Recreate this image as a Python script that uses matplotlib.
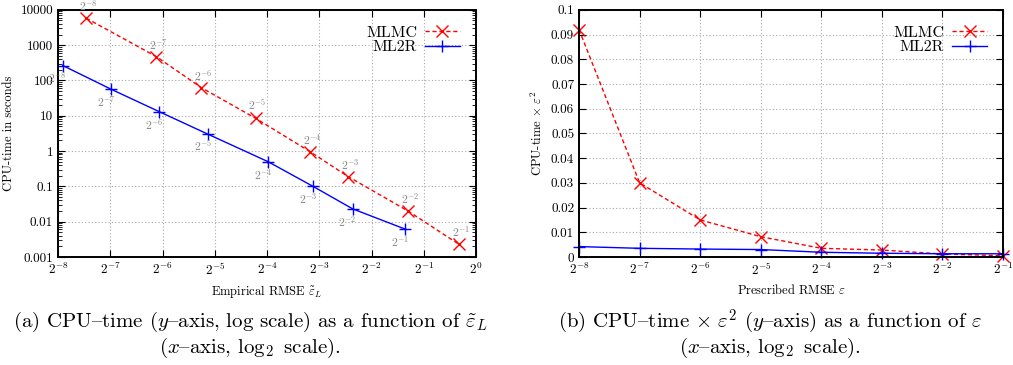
import numpy as np
import matplotlib
matplotlib.use("Agg")
import matplotlib.pyplot as plt
from matplotlib.ticker import FixedLocator, FixedFormatter, LogLocator, NullFormatter

plt.rcParams['font.family'] = ['cmr10', 'DejaVu Serif']
plt.rcParams['mathtext.fontset'] = 'cm'
plt.rcParams['axes.unicode_minus'] = False

# === DATA ===
# left panel: empirical RMSE (log2) vs CPU time, labelled by prescribed eps 2^-k
levels = [-8, -7, -6, -5, -4, -3, -2, -1]
mlmc_log2_err = [-7.46, -6.12, -5.26, -4.22, -3.18, -2.45, -1.30, -0.33]
mlmc_time = [5800, 475, 63, 8.5, 0.97, 0.19, 0.020, 0.0023]
ml2r_log2_err = [-7.91, -6.98, -6.06, -5.13, -3.98, -3.12, -2.36, -1.35]
ml2r_time = [265, 56, 13, 3.0, 0.50, 0.10, 0.023, 0.0061]

# right panel: prescribed RMSE vs CPU time * eps^2
eps_log2 = [-8, -7, -6, -5, -4, -3, -2, -1]
mlmc_cost = [0.092, 0.030, 0.015, 0.0082, 0.0035, 0.0028, 0.0012, 0.0005]
ml2r_cost = [0.0042, 0.0035, 0.0032, 0.0030, 0.0019, 0.0015, 0.0013, 0.0013]

left_yticks = [0.001, 0.01, 0.1, 1, 10, 100, 1000, 10000]
left_ylabels = ['0.001', '0.01', '0.1', '1', '10', '100', '1000', '10000']
left_xticks = list(range(-8, 1))
right_xticks = list(range(-8, 0))
right_yticks = [0, 0.01, 0.02, 0.03, 0.04, 0.05, 0.06, 0.07, 0.08, 0.09, 0.1]
right_ylabels = ['0', '0.01', '0.02', '0.03', '0.04', '0.05', '0.06', '0.07', '0.08', '0.09', '0.1']

RED = '#ff0000'
BLUE = '#0000ff'
GRID = '#a8a8a8'
# cmr10 keeps TeX's OT1 layout: the en-dash sits at the '{' slot
DASH = '{'


def style_axes(ax):
    for s in ax.spines.values():
        s.set_linewidth(1.4)
    ax.tick_params(which='both', direction='in', top=True, right=True, labelsize=9.5)
    ax.tick_params(which='major', length=5, width=0.8)
    ax.tick_params(which='minor', length=3, width=0.6)
    ax.grid(True, which='major', linestyle=(0, (1, 2)), color=GRID, linewidth=0.8)
    ax.set_axisbelow(True)


def add_legend(ax):
    ax.legend(loc='upper right', frameon=False, markerfirst=False, fontsize=11.5,
              handlelength=2.2, labelspacing=0.0, borderaxespad=0.6, handletextpad=0.5)


fig = plt.figure(figsize=(10.13, 3.65), dpi=100)

# === LEFT ===
ax1 = fig.add_axes([0.0573, 0.296, 0.4126, 0.677])
ax1.plot(np.exp2(mlmc_log2_err), mlmc_time, color=RED, ls=(0, (3, 2)), lw=1,
         marker='x', ms=8, mew=1, label='MLMC')
ax1.plot(np.exp2(ml2r_log2_err), ml2r_time, color=BLUE, ls='-', lw=1,
         marker='+', ms=9, mew=1, label='ML2R')
ax1.set_xscale('log', base=2)
ax1.set_yscale('log')
ax1.set_xlim(2.0 ** -8, 1)
ax1.set_ylim(0.001, 10000)
ax1.xaxis.set_major_locator(FixedLocator([2.0 ** k for k in left_xticks]))
ax1.xaxis.set_major_formatter(FixedFormatter([r'$2^{%d}$' % k for k in left_xticks]))
ax1.xaxis.set_minor_locator(FixedLocator([]))
ax1.yaxis.set_major_locator(FixedLocator(left_yticks))
ax1.yaxis.set_major_formatter(FixedFormatter(left_ylabels))
ax1.yaxis.set_minor_locator(LogLocator(base=10, subs=np.arange(2, 10)))
ax1.yaxis.set_minor_formatter(NullFormatter())
style_axes(ax1)
ax1.set_xlabel(r'Empirical RMSE $\tilde{\varepsilon}_L$', fontsize=9)
ax1.set_ylabel('CPU-time in seconds', fontsize=9)

for k, xe, t in zip(levels, mlmc_log2_err, mlmc_time):
    ax1.annotate(r'$2^{%d}$' % k, (2.0 ** xe, t), xytext=(2, 5), textcoords='offset pixels',
                 ha='center', va='bottom', fontsize=8.5, color='#888888')
for k, xe, t in zip(levels, ml2r_log2_err, ml2r_time):
    ax1.annotate(r'$2^{%d}$' % k, (2.0 ** xe, t), xytext=(-5, -5), textcoords='offset pixels',
                 ha='center', va='top', fontsize=8.5, color='#888888')
add_legend(ax1)

# === RIGHT ===
ax2 = fig.add_axes([0.5716, 0.296, 0.4186, 0.677])
ax2.plot(np.exp2(eps_log2), mlmc_cost, color=RED, ls=(0, (3, 2)), lw=1,
         marker='x', ms=8, mew=1, label='MLMC', clip_on=False)
ax2.plot(np.exp2(eps_log2), ml2r_cost, color=BLUE, ls='-', lw=1,
         marker='+', ms=9, mew=1, label='ML2R', clip_on=False)
ax2.set_xscale('log', base=2)
ax2.set_xlim(2.0 ** -8, 2.0 ** -1)
ax2.set_ylim(0, 0.1)
ax2.xaxis.set_major_locator(FixedLocator([2.0 ** k for k in right_xticks]))
ax2.xaxis.set_major_formatter(FixedFormatter([r'$2^{%d}$' % k for k in right_xticks]))
ax2.xaxis.set_minor_locator(FixedLocator([]))
ax2.yaxis.set_major_locator(FixedLocator(right_yticks))
ax2.yaxis.set_major_formatter(FixedFormatter(right_ylabels))
style_axes(ax2)
ax2.set_xlabel(r'Prescribed RMSE $\varepsilon$', fontsize=9)
ax2.set_ylabel(r'CPU-time $\times\ \varepsilon^2$', fontsize=9)
add_legend(ax2)

# === CAPTIONS ===
cap = 15
fig.text(0.247, 0.117, r'(a) CPU%stime ($y$%saxis, log scale) as a function of $\tilde{\varepsilon}_L$' % (DASH, DASH),
         ha='center', va='center', fontsize=cap)
fig.text(0.247, 0.048, r'($x$%saxis, $\log_2$ scale).' % DASH, ha='center', va='center', fontsize=cap)
fig.text(0.76, 0.117, r'(b) CPU%stime $\times\ \varepsilon^2$ ($y$%saxis) as a function of $\varepsilon$' % (DASH, DASH),
         ha='center', va='center', fontsize=cap)
fig.text(0.76, 0.048, r'($x$%saxis, $\log_2$ scale).' % DASH, ha='center', va='center', fontsize=cap)

fig.savefig('out.png', dpi=100)
